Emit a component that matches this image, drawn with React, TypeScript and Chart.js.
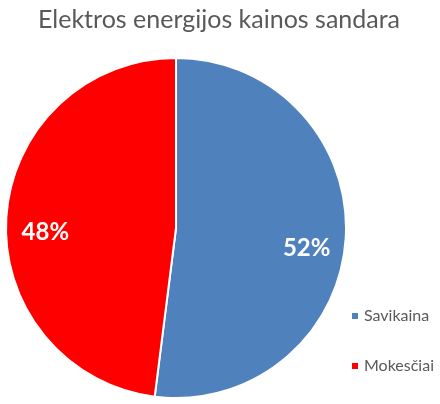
import React, { useEffect, useRef } from "react";
import { Chart, registerables } from "chart.js";

Chart.register(...registerables);

const titleText = "Elektros energijos kainos sandara";
const categories = ["Savikaina", "Mokesčiai"];
const values = [52, 48];
const colors = ["#4F81BD", "#FF0000"];

const FONT = "Lato, 'Noto Sans', sans-serif";

const titlePlugin = {
  id: "customTitle",
  beforeDraw(chart: any) {
    const ctx = chart.ctx;
    ctx.save();
    ctx.font = `25px ${FONT}`;
    ctx.fillStyle = "#595959";
    ctx.textAlign = "center";
    ctx.textBaseline = "alphabetic";
    ctx.fillText(titleText, 219, 28);
    ctx.restore();
  },
};

const sliceLabelPlugin = {
  id: "sliceLabels",
  afterDatasetsDraw(chart: any) {
    const ctx = chart.ctx;
    const meta = chart.getDatasetMeta(0);
    const data = chart.data.datasets[0].data as number[];
    const total = data.reduce((a, b) => a + b, 0);
    ctx.save();
    ctx.font = `bold 24px ${FONT}`;
    ctx.fillStyle = "#FFFFFF";
    ctx.textAlign = "center";
    ctx.textBaseline = "middle";
    meta.data.forEach((arc: any, i: number) => {
      const p = arc.getProps(["x", "y", "startAngle", "endAngle", "outerRadius"], true);
      const mid = (p.startAngle + p.endAngle) / 2;
      const r = p.outerRadius * 0.77;
      ctx.fillText(
        Math.round((data[i] / total) * 100) + "%",
        p.x + Math.cos(mid) * r,
        p.y + Math.sin(mid) * r + 12
      );
    });
    ctx.restore();
  },
};

const legendPlugin = {
  id: "customLegend",
  afterDraw(chart: any) {
    const ctx = chart.ctx;
    const labels = chart.data.labels as string[];
    const bg = chart.data.datasets[0].backgroundColor as string[];
    ctx.save();
    ctx.font = `16px ${FONT}`;
    ctx.textBaseline = "middle";
    ctx.textAlign = "left";
    const x0 = 352;
    const y0 = 316;
    const gap = 50;
    labels.forEach((lab, i) => {
      const y = y0 + i * gap;
      ctx.fillStyle = bg[i];
      ctx.fillRect(x0, y - 3, 6, 6);
      ctx.fillStyle = "#595959";
      ctx.fillText(lab, x0 + 12, y);
    });
    ctx.restore();
  },
};

export default function App() {
  const ref = useRef<HTMLCanvasElement>(null);
  useEffect(() => {
    if (!ref.current) return;
    const chart = new Chart(ref.current, {
      type: "pie",
      data: {
        labels: categories,
        datasets: [
          {
            data: values,
            backgroundColor: colors,
            borderColor: "#FFFFFF",
            borderWidth: 2,
          },
        ],
      },
      options: {
        animation: false,
        responsive: false,
        devicePixelRatio: 1,
        layout: { padding: { left: 5, right: 93, top: 57, bottom: 5 } },
        plugins: {
          legend: { display: false },
          title: { display: false },
          tooltip: { enabled: false },
        },
      },
      plugins: [titlePlugin, sliceLabelPlugin, legendPlugin],
    });
    return () => chart.destroy();
  }, []);
  return (
    <div style={{ position: "fixed", left: 0, top: 0, width: 440, height: 404, background: "#fff" }}>
      <canvas ref={ref} width={440} height={404} style={{ display: "block" }} />
    </div>
  );
}
